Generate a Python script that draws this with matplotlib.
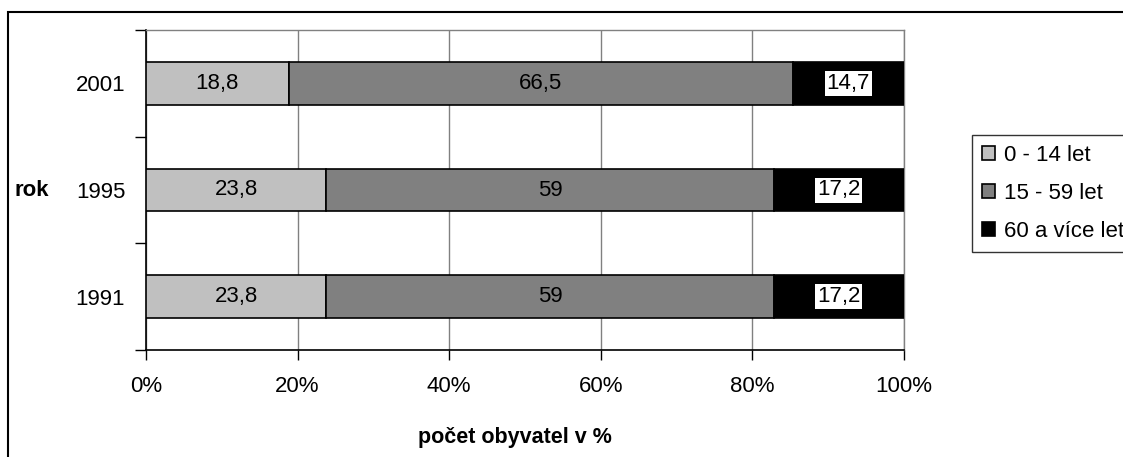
import matplotlib.pyplot as plt
from matplotlib.patches import Rectangle
from matplotlib.ticker import FixedLocator, PercentFormatter
import numpy as np

plt.rcParams['font.family'] = ['Liberation Sans', 'DejaVu Sans']

years = ['1991', '1995', '2001']
deti = [23.8, 23.8, 18.8]
produktivni = [59, 59, 66.5]
seniori = [17.2, 17.2, 14.7]
skupiny = ['0 - 14 let', '15 - 59 let', '60 a více let']
barvy = ['#c0c0c0', '#808080', '#000000']

FS = 16

fig = plt.figure(figsize=(11.23, 4.57), dpi=100)
ax = fig.add_axes([146 / 1123, 1 - 350 / 457, 758 / 1123, 320 / 457])

# outer frame of the chart area
fig.patches.append(Rectangle((8 / 1123, -0.2), 1.2, 1 - 12 / 457 + 0.2,
                             transform=fig.transFigure, fill=False,
                             edgecolor='black', linewidth=1.5, zorder=0))

y = np.arange(len(years))
left = np.zeros(len(years))
for i, (vals, name, col) in enumerate(zip([deti, produktivni, seniori], skupiny, barvy)):
    bars = ax.barh(y, vals, left=left, height=0.4, color=col, edgecolor='black',
                   linewidth=1.2, label=name, zorder=3)
    for b, v, l in zip(bars, vals, left):
        txt = f'{v:g}'.replace('.', ',')
        box = dict(facecolor='white', edgecolor='none', pad=1.5) if i == 2 else None
        ax.text(l + v / 2, b.get_y() + 0.2, txt, ha='center', va='center',
                fontsize=FS, color='black', zorder=4, bbox=box)
    left = left + np.array(vals)

ax.set_xlim(0, 100)
ax.set_ylim(-0.5, 2.5)
ax.set_xticks(np.arange(0, 101, 20))
ax.xaxis.set_major_formatter(PercentFormatter(decimals=0))
ax.set_yticks(y)
ax.set_yticklabels(years)
ax.yaxis.set_minor_locator(FixedLocator([-0.5, 0.5, 1.5, 2.5]))
ax.tick_params(axis='y', which='major', length=0, pad=15, labelsize=FS)
ax.tick_params(axis='y', which='minor', length=8, width=1, color='black')
ax.tick_params(axis='x', length=7, width=1, pad=12, labelsize=FS)

ax.grid(axis='x', color='#808080', linewidth=1, zorder=0)
ax.set_axisbelow(True)
for s in ['top', 'right']:
    ax.spines[s].set_color('#808080')
    ax.spines[s].set_linewidth(1)
for s in ['left', 'bottom']:
    ax.spines[s].set_color('black')
    ax.spines[s].set_linewidth(1.2)

fig.text(515 / 1123, 1 - 437 / 457, 'počet obyvatel v %', ha='center', va='center',
         fontsize=15.5, fontweight='bold')
fig.text(32 / 1123, 1 - 190 / 457, 'rok', ha='center', va='center',
         fontsize=FS, fontweight='bold')

leg = fig.legend(loc='upper left', bbox_to_anchor=(972 / 1123, 1 - 135 / 457),
                 borderaxespad=0, frameon=True, fancybox=False, fontsize=FS,
                 handlelength=0.6, handleheight=0.6, handletextpad=0.4,
                 labelspacing=0.77, borderpad=0.45)
leg.get_frame().set_edgecolor('black')
leg.get_frame().set_linewidth(1)

fig.savefig('out.png', dpi=100)
